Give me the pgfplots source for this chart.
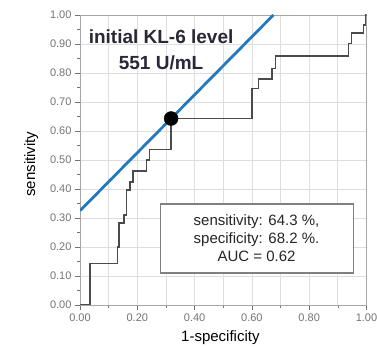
\documentclass[border=0pt]{standalone}
\usepackage{pgfplots}
\pgfplotsset{compat=1.18}
\usepackage{fontspec}
\setmainfont{Liberation Sans}
\definecolor{roc}{RGB}{75,75,75}
\definecolor{blueline}{RGB}{35,120,190}
\definecolor{tickgray}{RGB}{115,115,115}
\definecolor{gridgray}{RGB}{222,222,222}
\definecolor{titlecol}{RGB}{40,40,55}
\begin{document}
\begin{tikzpicture}
\useasboundingbox (0,0) rectangle (377pt,347pt);
\begin{axis}[
  at={(80pt,42pt)}, anchor=south west,
  width=286.5pt, height=290pt, scale only axis,
  xmin=0, xmax=1, ymin=0, ymax=1,
  xtick={0,0.2,0.4,0.6,0.8,1}, minor xtick={0.1,0.3,0.5,0.7,0.9},
  ytick={0,0.1,0.2,0.3,0.4,0.5,0.6,0.7,0.8,0.9,1},
  minor ytick={0.05,0.15,0.25,0.35,0.45,0.55,0.65,0.75,0.85,0.95},
  xmajorgrids, xminorgrids, ymajorgrids,
  grid style={gridgray, line width=0.8pt},
  minor grid style={gridgray, line width=0.8pt},
  axis line style={draw=gray!70, line width=0.8pt},
  tick pos=left, tick align=outside,
  major tick length=5pt, minor tick length=3pt,
  tick style={tickgray, line width=0.6pt},
  ticklabel style={font=\fontsize{11}{12}\selectfont, text=tickgray},
  /pgf/number format/assume math mode=true,
  xticklabel style={/pgf/number format/.cd, fixed, fixed zerofill, precision=2},
  yticklabel style={/pgf/number format/.cd, fixed, fixed zerofill, precision=2},
  xlabel={1-specificity}, ylabel={sensitivity},
  xlabel style={font=\fontsize{15}{16}\selectfont, at={(axis description cs:0.49,-0.114)}, anchor=center},
  ylabel style={font=\fontsize{15}{16}\selectfont, at={(axis description cs:-0.17,0.486)}, anchor=center},
]
\addplot[roc, line width=1.6pt] coordinates {
(0,0) (0.035,0) (0.035,0.143) (0.131,0.143) (0.131,0.20) (0.136,0.20)
(0.136,0.283) (0.153,0.283) (0.153,0.31) (0.162,0.31) (0.162,0.397)
(0.174,0.397) (0.174,0.425) (0.184,0.425) (0.184,0.463) (0.232,0.463)
(0.232,0.50) (0.243,0.50) (0.243,0.536) (0.318,0.536) (0.318,0.643)
(0.60,0.643) (0.60,0.747) (0.623,0.747) (0.623,0.78) (0.67,0.78)
(0.67,0.816) (0.683,0.816) (0.683,0.859) (0.9375,0.859) (0.9375,0.902)
(0.948,0.902) (0.948,0.937) (0.99,0.937) (0.99,0.966) (0.997,0.966)
(0.997,1.0) (1,1)
};
\addplot[blueline, line width=2.8pt] coordinates {(0,0.325) (0.675,1)};
\addplot[only marks, mark=*, mark size=7pt, black] coordinates {(0.318,0.643)};
\draw[fill=white, draw=gray, line width=1.2pt] (axis cs:0.281,0.110) rectangle (axis cs:0.955,0.348);
\node[align=center, font=\fontsize{15}{18.3}\selectfont, text=black!85] at (axis cs:0.616,0.23)
  {sensitivity: 64.3 \%,\\specificity: 68.2 \%.\\AUC = 0.62};
\node[align=center, font=\fontsize{19}{25.7}\selectfont\bfseries, text=titlecol] at (axis cs:0.283,0.88)
  {initial KL-6 level\\551 U/mL};
\end{axis}
\end{tikzpicture}
\end{document}
